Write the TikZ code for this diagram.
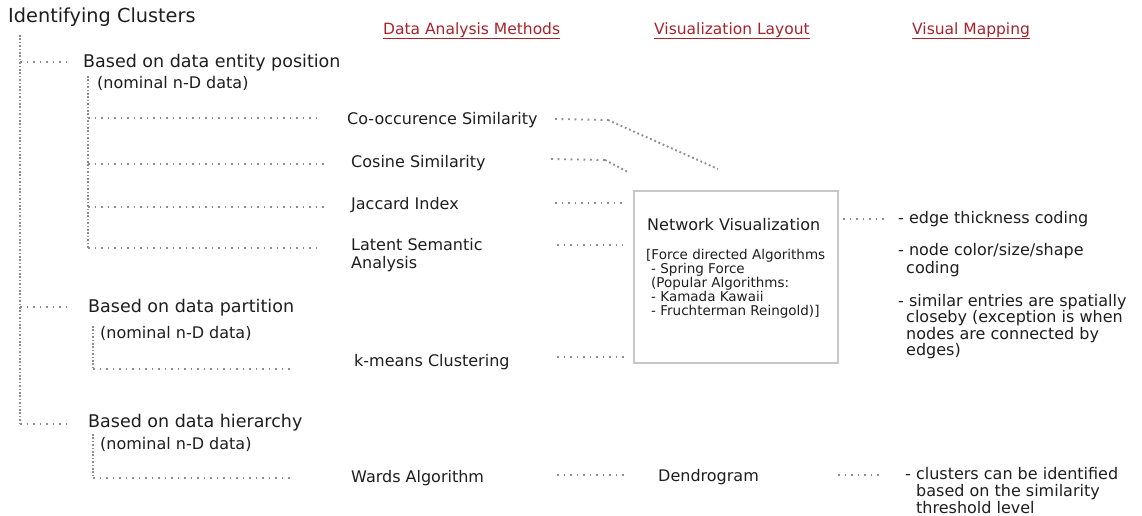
\documentclass[tikz,border=0pt]{standalone}
\usepackage{fontspec}
\setmainfont{DejaVu Sans}
\definecolor{ink}{HTML}{1E1E1E}
\definecolor{hdr}{HTML}{A8232A}
\definecolor{dotc}{HTML}{8E8E8E}
\definecolor{boxc}{HTML}{C8C8C8}
\begin{document}
\begin{tikzpicture}[x=1pt,y=-1pt,
  txt/.style={inner sep=0pt, anchor=west, text=ink, font=\fontsize{16}{18}\selectfont, yshift=-2pt},
  big/.style={txt, font=\fontsize{17.5}{20}\selectfont},
  small/.style={txt, font=\fontsize{13.5}{14}\selectfont, align=left},
  mapping/.style={txt, align=left, font=\fontsize{16}{16.5}\selectfont},
  hdrtxt/.style={inner sep=0pt, anchor=west, text=hdr, font=\fontsize{15.5}{18}\selectfont, yshift=-2pt},
  hdrline/.style={draw=hdr, line width=1.4pt},
  dots/.style={draw=dotc, line width=1.9pt, dash pattern=on 1.9pt off 4.6pt},
  vdots/.style={draw=dotc, line width=1.9pt, dash pattern=on 1.6pt off 1.8pt},
  ddots/.style={draw=dotc, line width=1.9pt, dash pattern=on 1.8pt off 2.8pt},
  panel/.style={draw=boxc, line width=2pt, inner sep=0pt}]
\useasboundingbox (0,0) rectangle (1142,516);

% title and column headers
\node[txt, font=\fontsize{19.3}{22}\selectfont] (title) at (8,15) {Identifying Clusters};
\node[hdrtxt] (h1) at (383,28) {Data Analysis Methods};
\node[hdrtxt] (h2) at (654,28) {Visualization Layout};
\node[hdrtxt] (h3) at (912,28) {Visual Mapping};
\foreach \h in {h1,h2,h3}
  \draw[hdrline] ([yshift=-4pt]\h.base west) -- ([yshift=-4pt]\h.base east);

% criteria
\node[big] (b1) at (83,61) {Based on data entity position};
\node[txt] (n1) at (97,81) {(nominal n-D data)};
\node[big] (b2) at (88,306) {Based on data partition};
\node[txt] (n2) at (100,331) {(nominal n-D data)};
\node[big] (b3) at (88,421) {Based on data hierarchy};
\node[txt] (n3) at (100,442) {(nominal n-D data)};

% analysis methods
\node[txt] (m1) at (347,118) {Co-occurence Similarity};
\node[txt] (m2) at (351,161) {Cosine Similarity};
\node[txt] (m3) at (351,203) {Jaccard Index};
\node[txt, align=left] (m4) at (351,253) {Latent Semantic\\Analysis};
\node[txt] (m5) at (354,360) {k-means Clustering};
\node[txt] (m6) at (351,476) {Wards Algorithm};

% layouts
\node[panel, minimum width=204pt, minimum height=172pt] (net) at (736,277) {};
\node[txt] (nvt) at (647,223) {Network Visualization};
\node[small] (nvd) at (646,282) {[Force directed Algorithms\\
  \hspace*{5pt}- Spring Force\\
  \hspace*{5pt}(Popular Algorithms:\\
  \hspace*{5pt}- Kamada Kawaii\\
  \hspace*{5pt}- Fruchterman Reingold)]};
\node[txt] (dendro) at (658,475) {Dendrogram};

% visual mappings
\node[mapping] (v1) at (898,217) {- edge thickness coding};
\node[mapping, font=\fontsize{16}{18}\selectfont] (v2) at (898,258) {- node color/size/shape\\\hspace*{8pt}coding};
\node[mapping] (v3) at (898,324.5) {- similar entries are spatially\\\hspace*{8pt}closeby (exception is when\\\hspace*{8pt}nodes are connected by\\\hspace*{8pt}edges)};
\node[mapping, font=\fontsize{16}{17}\selectfont] (v4) at (905,489) {- clusters can be identified\\\hspace*{11pt}based on the similarity\\\hspace*{11pt}threshold level};

% main tree
\coordinate (trunk) at (20,35);
\coordinate (trunkend) at (20,424);
\draw[vdots] (trunk) -- (trunkend);
\draw[dots] (trunk |- 0,62) -- ([xshift=-13pt]b1.west |- 0,62);
\draw[dots] (trunk |- 0,307) -- ([xshift=-18pt]b2.west |- 0,307);
\draw[dots] (trunkend) -- ([xshift=-18pt]b3.west |- trunkend);

% branch: entity position
\coordinate (s1) at (88,76);
\coordinate (s1end) at (88,248);
\draw[vdots] (s1) -- (s1end);
\draw[dots] (s1 |- 0,118) -- ([xshift=-29pt]m1.west |- 0,118);
\draw[dots] (s1 |- 0,164) -- ([xshift=-26pt]m2.west |- 0,164);
\draw[dots] (s1 |- 0,207) -- ([xshift=-26pt]m3.west |- 0,207);
\draw[dots] (s1end) -- ([xshift=-30pt]m4.west |- s1end);

% branch: partition
\coordinate (s2) at (93,326);
\coordinate (s2end) at (93,369);
\draw[vdots] (s2) -- (s2end);
\draw[dots] (s2end) -- ([xshift=-64pt]m5.west |- s2end);
% branch: hierarchy
\coordinate (s3) at (93,434);
\coordinate (s3end) at (93,478);
\draw[vdots] (s3) -- (s3end);
\draw[dots] (s3end) -- ([xshift=-61pt]m6.west |- s3end);

% methods to layouts
\coordinate (c1a) at (555,119);
\coordinate (c1b) at (608,120);
\coordinate (c1c) at (718,169);
\draw[dots] (c1a) -- (c1b);
\draw[ddots] (c1b) -- (c1c);
\coordinate (c2a) at (551,159);
\coordinate (c2b) at (605,160);
\coordinate (c2c) at (628,172);
\draw[dots] (c2a) -- (c2b);
\draw[ddots] (c2b) -- (c2c);
\coordinate (c3a) at (555,203);
\draw[dots] (c3a) -- ([xshift=-7pt]net.west |- c3a);
\coordinate (c4a) at (557,245);
\draw[dots] (c4a) -- ([xshift=-10pt]net.west |- c4a);
\coordinate (c5a) at (557,357);
\draw[dots] (c5a) -- ([xshift=-5pt]net.west |- c5a);
\coordinate (c6a) at (557,475);
\draw[dots] (c6a) -- ([xshift=-34pt]dendro.west |- c6a);

% layouts to mappings
\draw[dots] ([xshift=4pt]net.east |- v1.west) -- ([xshift=-11pt]v1.west);
\coordinate (c7a) at (838,475);
\draw[dots] (c7a) -- ([xshift=-23pt]v4.west |- c7a);
\end{tikzpicture}
\end{document}
